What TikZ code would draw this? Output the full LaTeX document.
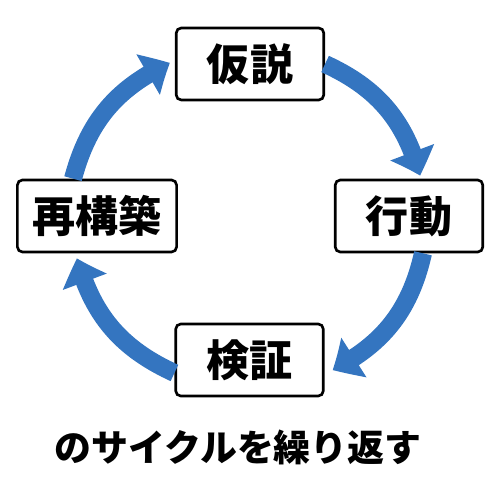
\documentclass[tikz,border=0pt]{standalone}
\usepackage{fontspec}
\usepackage{tikz}
\usetikzlibrary{arrows.meta, bending}
\newfontfamily\jpfont{Noto Sans CJK JP}
\definecolor{cycleblue}{RGB}{52, 117, 192}

\begin{document}
\begin{tikzpicture}[
    stagebox/.style={draw=black, line width=1.5pt, rounded corners=0.1cm, fill=white,
      minimum width=2.95cm, minimum height=1.44cm, inner xsep=0.3cm,
      font=\jpfont\bfseries\fontsize{24.5pt}{28pt}\selectfont},
    cyclearrow/.style={cycleblue, line width=0.36cm,
      -{Triangle[length=0.5cm, width=0.9cm, bend]}, bend left=25}
  ]
        \useasboundingbox (0,0) rectangle (10,10);
        % Four stages of the cycle
        \node[stagebox] (hyp) at (5.00,8.72) {仮説};
        \node[stagebox] (act) at (8.18,5.68) {行動};
        \node[stagebox] (ver) at (4.99,2.80) {検証};
        \node[stagebox] (rec) at (1.94,5.68) {再構築};
        % Arrows going round clockwise
        \draw[cyclearrow] (hyp.east) to ([shift={(0.22,0.06)}]act.north);
        \draw[cyclearrow] ([shift={(0.28,0)}]act.south) to ([shift={(0.16,-0.2)}]ver.east);
        \draw[cyclearrow] ([shift={(0,-0.26)}]ver.west) to ([shift={(-0.4,-0.1)}]rec.south);
        \draw[cyclearrow] ([shift={(-0.48,0)}]rec.north) to ([shift={(-0.1,0.02)}]hyp.west);
        \node[font=\jpfont\bfseries\fontsize{21pt}{25pt}\selectfont] (caption) at (4.76,1.06) {のサイクルを繰り返す};
      \end{tikzpicture}
\end{document}
